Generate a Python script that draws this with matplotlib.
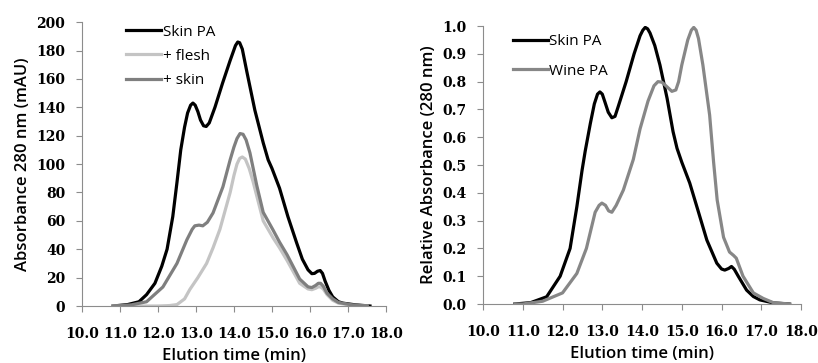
import matplotlib.pyplot as plt

# left panel: absorbance (mAU) vs elution time (min)
skin_x = [10.82, 11.2, 11.5, 11.7, 11.92, 12.1, 12.24, 12.39, 12.5, 12.6, 12.7, 12.78, 12.86,
          12.92, 12.98, 13.05, 13.12, 13.2, 13.27, 13.35, 13.5, 13.7, 13.9, 13.98, 14.04, 14.1,
          14.15, 14.22, 14.34, 14.55, 14.77, 14.9, 15.0, 15.2, 15.42, 15.65, 15.8, 15.95, 16.05,
          16.12, 16.2, 16.27, 16.33, 16.4, 16.5, 16.6, 16.75, 16.87, 17.2, 17.58]
skin_y = [0, 1, 3, 8, 16, 28, 40, 63, 87, 110, 126, 136, 141.5,
          143, 141.5, 137, 131, 127, 126.5, 129, 140, 157, 173, 179, 183.5, 186,
          185.5, 181, 165, 138, 115, 103, 97, 83, 63, 44.5, 33, 25.5, 22.8,
          23, 24.5, 25, 23, 17.5, 11, 6.4, 3, 2, 0.8, 0]

flesh_x = [10.82, 11.5, 12.0, 12.3, 12.5, 12.7, 12.84, 13.05, 13.28, 13.45, 13.63, 13.9, 14.0,
           14.08, 14.15, 14.22, 14.3, 14.4, 14.5, 14.77, 15.03, 15.2, 15.4, 15.73, 15.95, 16.05,
           16.15, 16.22, 16.28, 16.35, 16.45, 16.6, 16.75, 17.1, 17.5]
flesh_y = [0, 0, 0, 0.3, 1, 5, 11.7, 20, 30, 41, 54, 80, 92,
           100, 104, 105, 103.5, 97, 88, 60, 48, 41, 32, 16, 12, 11.5,
           12.5, 13.5, 13.5, 12, 8, 4, 2, 0.5, 0]

mix_x = [10.82, 11.3, 11.7, 12.13, 12.5, 12.76, 12.9, 12.97, 13.08, 13.18, 13.3, 13.45, 13.71,
         13.9, 14.0, 14.08, 14.16, 14.24, 14.32, 14.42, 14.6, 14.77, 15.03, 15.2, 15.4, 15.73,
         15.95, 16.05, 16.15, 16.22, 16.28, 16.35, 16.45, 16.6, 16.75, 17.1, 17.5]
mix_y = [0, 0.8, 3, 13.4, 30, 46.6, 54, 56.5, 57, 56.5, 59, 65.6, 84,
         103, 112, 118, 121.5, 121, 117, 108, 85, 66, 53.5, 45, 36, 19,
         13.5, 13, 14.5, 16, 16, 14, 9, 5, 2.5, 0.8, 0]

# right panel: relative absorbance
rskin_x = [10.8, 11.2, 11.6, 11.94, 12.19, 12.36, 12.49, 12.57, 12.7, 12.8, 12.88, 12.94, 13.0,
           13.07, 13.15, 13.24, 13.32, 13.4, 13.6, 13.8, 13.95, 14.02, 14.08, 14.14, 14.2, 14.32,
           14.45, 14.63, 14.78, 14.88, 15.0, 15.2, 15.4, 15.63, 15.88, 16.0, 16.08, 16.18, 16.25,
           16.32, 16.42, 16.63, 16.8, 16.96, 17.3, 17.7]
rskin_y = [0, 0.005, 0.026, 0.1, 0.2, 0.35, 0.48, 0.55, 0.65, 0.72, 0.755, 0.763, 0.755,
           0.725, 0.69, 0.67, 0.675, 0.71, 0.8, 0.9, 0.965, 0.985, 0.995, 0.99, 0.975, 0.93,
           0.86, 0.74, 0.62, 0.56, 0.51, 0.435, 0.34, 0.23, 0.147, 0.126, 0.122, 0.128, 0.135,
           0.125, 0.1, 0.05, 0.027, 0.015, 0.004, 0]

wine_x = [10.8, 11.0, 11.5, 12.0, 12.36, 12.6, 12.82, 12.92, 12.99, 13.08, 13.16, 13.24, 13.35,
          13.53, 13.78, 13.95, 14.15, 14.3, 14.4, 14.5, 14.6, 14.75, 14.85, 14.92, 15.0, 15.15,
          15.24, 15.3, 15.36, 15.42, 15.53, 15.7, 15.8, 15.89, 16.05, 16.2, 16.3, 16.37, 16.54,
          16.8, 17.05, 17.3, 17.72]
wine_y = [0, 0, 0.01, 0.04, 0.11, 0.2, 0.33, 0.355, 0.363, 0.355, 0.335, 0.33, 0.355,
          0.41, 0.52, 0.63, 0.73, 0.785, 0.8, 0.798, 0.785, 0.765, 0.77, 0.8, 0.86, 0.95,
          0.985, 0.995, 0.985, 0.955, 0.86, 0.68, 0.51, 0.374, 0.24, 0.187, 0.175, 0.165, 0.1,
          0.04, 0.02, 0.005, 0]

xticks = [10, 11, 12, 13, 14, 15, 16, 17, 18]

tick_font = dict(family='DejaVu Serif', size=10, weight='bold')
label_font = dict(family='Open Sans', size=12, weight='semibold')
legend_font = dict(family='Open Sans', size=11)

fig = plt.figure(figsize=(8.18, 3.63), dpi=100)
ax1 = fig.add_axes([0.1002, 0.157, 0.3716, 0.782])
ax2 = fig.add_axes([0.5905, 0.1625, 0.3888, 0.7658])

ax1.plot(skin_x, skin_y, color='black', lw=2.3, label='Skin PA', solid_joinstyle='round')
ax1.plot(flesh_x, flesh_y, color='#c4c4c4', lw=2.3, label='+ flesh', solid_joinstyle='round')
ax1.plot(mix_x, mix_y, color='#7f7f7f', lw=2.3, label='+ skin', solid_joinstyle='round')
ax1.set_ylim(0, 200)
ax1.set_yticks(range(0, 201, 20))
ax1.set_ylabel('Absorbance 280 nm (mAU)', labelpad=4, **label_font)

ax2.plot(rskin_x, rskin_y, color='black', lw=2.3, label='Skin PA', solid_joinstyle='round')
ax2.plot(wine_x, wine_y, color='#878787', lw=2.3, label='Wine PA', solid_joinstyle='round')
ax2.set_ylim(0, 1.0)
ax2.set_yticks([i / 10 for i in range(11)])
ax2.set_ylabel('Relative Absorbance (280 nm)', labelpad=4, **label_font)

for ax, fmt in [(ax1, '{:.0f}'), (ax2, '{:.1f}')]:
    ax.set_xlim(10, 18)
    ax.set_xticks(xticks)
    ax.set_xticklabels(['%.1f' % t for t in xticks], fontdict=tick_font)
    ax.set_yticklabels([fmt.format(t) for t in ax.get_yticks()], fontdict=tick_font)
    ax.set_xlabel('Elution time (min)', labelpad=5, **label_font)
    ax.spines['top'].set_visible(False)
    ax.spines['right'].set_visible(False)
    ax.spines['left'].set_color('#8c8c8c')
    ax.spines['bottom'].set_color('#8c8c8c')
    ax.tick_params(colors='#8c8c8c', labelcolor='black', length=4, pad=8)
    ax.tick_params(axis='x', pad=11)

ax1.legend(loc='upper left', bbox_to_anchor=(0.1, 1.04), frameon=False, handlelength=2.3,
           handletextpad=0.1, labelspacing=0.6, prop=legend_font)
ax2.legend(loc='upper left', bbox_to_anchor=(0.05, 1.02), frameon=False, handlelength=2.3,
           handletextpad=0.1, labelspacing=0.95, prop=legend_font)

plt.savefig('out.png', dpi=100)
